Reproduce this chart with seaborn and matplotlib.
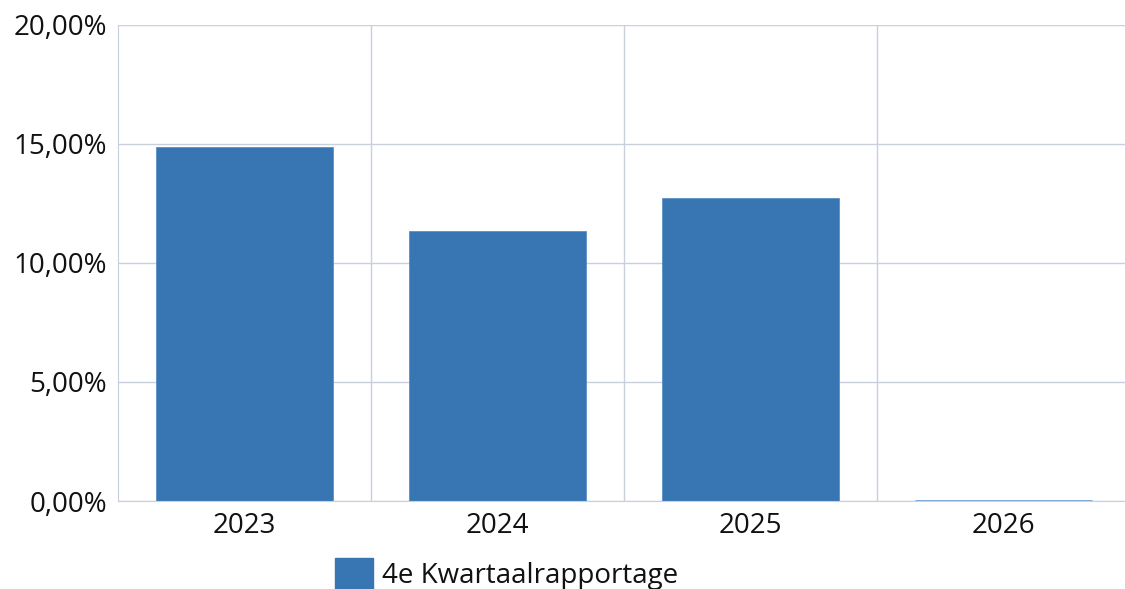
import numpy as np
import pandas as pd
import seaborn as sns
import matplotlib.pyplot as plt
from matplotlib.patches import Patch
from matplotlib.ticker import FuncFormatter, MultipleLocator

# Data
years = ['2023', '2024', '2025', '2026']
values = [14.87, 11.34, 12.73, 0.0]
series_name = '4e Kwartaalrapportage'

df = pd.DataFrame({'year': years, 'value': values})

sns.set_style('white')
plt.rcParams['font.family'] = ['Open Sans', 'DejaVu Sans']

bar_color = '#3776b2'
grid_color = '#c9cfdc'

fig = plt.figure(figsize=(11.25, 5.89), dpi=100)
ax = fig.add_axes([0.105, 0.1494, 0.899, 0.8082])

sns.barplot(data=df, x='year', y='value', color=bar_color, width=0.70,
            saturation=1, ax=ax)
for p, v in zip(ax.patches, values):
    if v == 0:
        p.set_edgecolor('#6f9fd2')
        p.set_linewidth(2)
    else:
        p.set_edgecolor('#5a8fc6')
        p.set_linewidth(0.6)

ax.set_xlim(-0.5, 3.5)
ax.set_ylim(0, 20)
ax.yaxis.set_major_locator(MultipleLocator(5))
ax.yaxis.set_major_formatter(FuncFormatter(lambda v, _: f'{v:.2f}%'.replace('.', ',')))
ax.set_xticks(np.arange(0.5, 3.5, 1), minor=True)
ax.grid(True, axis='y', which='major', color=grid_color, linewidth=1)
ax.grid(True, axis='x', which='minor', color=grid_color, linewidth=1)
ax.grid(False, axis='x', which='major')
ax.set_axisbelow(True)
for s in ['top', 'right']:
    ax.spines[s].set_visible(False)
ax.spines['left'].set_color(grid_color)
ax.spines['bottom'].set_color(grid_color)
ax.tick_params(axis='both', which='both', length=0, labelsize=20, colors='#111111')
ax.tick_params(axis='x', pad=8)
ax.tick_params(axis='y', pad=8)
ax.set_xlabel('')
ax.set_ylabel('')

handle = Patch(facecolor=bar_color, edgecolor=bar_color)
fig.legend([handle], [series_name], loc='upper left', bbox_to_anchor=(0.298, 0.052),
           frameon=False, fontsize=20, handlelength=1.35, handleheight=1.35,
           handletextpad=0.35, borderaxespad=0, borderpad=0,
           labelcolor='#111111')

fig.savefig('out.png', dpi=100)
